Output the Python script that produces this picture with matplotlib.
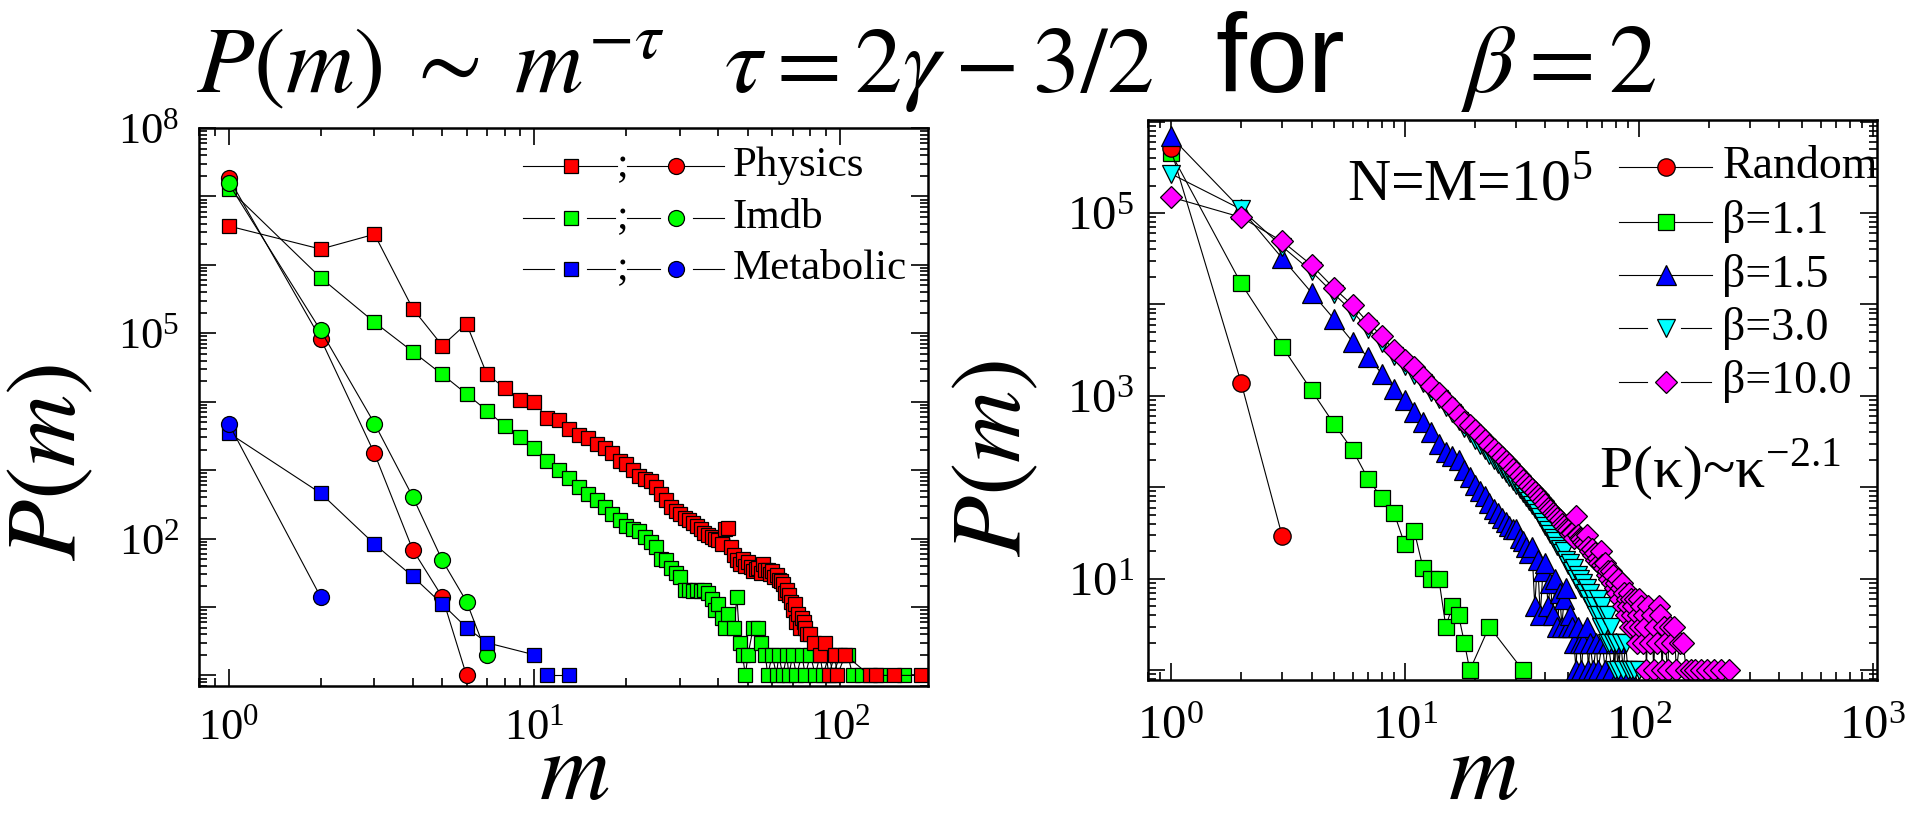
import numpy as np
import matplotlib
matplotlib.use('Agg')
import matplotlib.pyplot as plt
from matplotlib.ticker import LogLocator, FuncFormatter, NullFormatter

plt.rcParams['font.family'] = ['Liberation Serif', 'DejaVu Serif']
plt.rcParams['mathtext.fontset'] = 'stix'

# ---- left panel: P(m) for real networks ----
imdb_sq_m = [1, 2, 3, 4, 5, 6, 7, 8, 9, 10, 11, 12, 13, 14, 15, 16, 17, 18, 19, 20,
             21, 22, 23, 24, 25, 26, 27, 28, 29, 30, 31, 32, 33, 34, 35, 36, 37, 38, 39, 40,
             41, 42, 43, 45, 46, 47, 48, 49, 50, 52, 54, 55, 57, 58, 60, 62, 63, 65, 67, 68,
             70, 72, 75, 77, 80, 83, 86, 88, 92, 95, 100, 106, 110, 118, 135, 162]
imdb_sq_v = [1.3e7, 6.5e5, 1.45e5, 5.4e4, 2.5e4, 1.3e4, 7400, 4450, 3000, 2130, 1370, 1000, 780, 575, 450, 370, 290, 225, 186, 155,
             138, 129, 107, 89, 74, 50, 48, 37, 31, 27, 18, 18, 17, 18, 17, 18, 16, 13, 9, 11,
             7, 5, 8, 5, 14, 3, 2, 1, 2, 5, 5, 3, 2, 1, 2, 1, 2, 1, 2, 1,
             2, 1, 2, 1, 2, 1, 2, 1, 2, 1, 2, 2, 1, 1, 1, 1]

phys_sq_m = [1, 2, 3, 4, 5, 6, 7, 8, 9, 10, 11, 12, 13, 14, 15, 16, 17, 18, 19, 20,
             21, 22, 23, 24, 25, 26, 27, 28, 29, 30, 31, 32, 33, 34, 35, 36, 37, 38, 39, 40,
             41, 42, 43, 44, 45, 46, 47, 48, 49, 50, 51, 52, 53, 54, 55, 56, 57, 58, 59, 60,
             61, 62, 63, 64, 65, 66, 67, 68, 69, 70, 71, 72, 73, 74, 75, 76, 77, 78, 80, 82,
             86, 89, 92, 96, 98, 104, 125, 131, 150, 184]
phys_sq_v = [3.7e6, 1.7e6, 2.8e6, 2.3e5, 6.6e4, 1.38e5, 2.5e4, 1.6e4, 1.05e4, 1.0e4, 5750, 5400, 4050, 3300, 2900, 2400, 2130, 1770, 1370, 1210,
             1000, 830, 740, 690, 575, 450, 370, 290, 255, 225, 200, 186, 166, 155, 138, 120, 114, 107, 100, 94,
             83, 138, 145, 74, 57, 48, 42, 50, 40, 45, 38, 33, 36, 37, 31, 42, 35, 35, 30, 33,
             27, 29, 25, 24, 22, 16, 18, 15, 12, 9, 11, 6, 8, 5, 7, 6, 5, 4, 4, 3,
             2, 3, 1, 2, 1, 2, 1, 1, 1, 1]

phys_ci_m = [1, 2, 3, 4, 5, 6]
phys_ci_v = [1.87e7, 8.3e4, 1750, 69, 14, 1]
imdb_ci_m = [1, 2, 3, 4, 5, 6, 7]
imdb_ci_v = [1.55e7, 1.1e5, 4800, 410, 48, 12, 2]
metab_sq_m = [1, 2, 3, 4, 5, 6, 7, 10]
metab_sq_v = [3500, 460, 83, 28, 11, 5, 3, 2]
metab_sq_tail_m = [11, 13]
metab_sq_tail_v = [1, 1]
metab_ci_m = [1, 2]
metab_ci_v = [4800, 14]

# ---- right panel: model, N=M=10^5 ----
random_m = [1, 2, 3]
random_v = [5.1e5, 1400, 29]
b11_m = [1, 2, 3, 4, 5, 6, 7, 8, 9, 10, 11, 12, 13, 14, 15, 16, 17, 18, 19, 23, 32]
b11_v = [4.6e5, 1.7e4, 3450, 1150, 490, 255, 122, 76, 53, 24, 33, 13, 10, 10, 3, 5, 4, 2, 1, 3, 1]
b15_m = [1, 2, 3, 4, 5, 6, 7, 8, 9, 10, 11, 12, 13, 14, 15, 16, 17, 18, 19, 20,
         21, 22, 23, 24, 25, 26, 27, 28, 29, 30, 31, 32, 33, 34, 35, 36, 37, 38, 39, 40,
         41, 42, 43, 44, 45, 46, 47, 48, 49, 50, 51, 52, 53, 54, 55, 56, 57, 58, 60, 61,
         62, 64, 66, 67, 70, 72, 74, 77, 80, 84, 89]
b15_v = [6.9e5, 1.1e5, 3.2e4, 1.35e4, 6900, 3900, 2640, 1740, 1200, 900, 670, 520, 405, 300, 245, 220, 200, 155, 130, 105,
         92, 80, 67, 58, 53, 46, 42, 38, 35, 35, 28, 26, 22, 19, 22, 5, 16, 4, 12, 15,
         5, 9, 4, 10, 3, 7, 3, 6, 8, 3, 4, 3, 2, 1, 3, 2, 1, 2, 3, 1,
         2, 1, 2, 1, 2, 1, 2, 1, 2, 1, 1]
b30_m = [1, 2, 3, 4, 5, 6, 7, 8, 9, 10, 11, 12, 13, 14, 15, 16, 17, 18, 19, 20,
         21, 22, 23, 24, 25, 26, 27, 28, 29, 30, 31, 32, 33, 34, 35, 36, 37, 38, 39, 40,
         41, 42, 43, 44, 45, 46, 47, 48, 49, 50, 51, 52, 53, 54, 55, 56, 57, 58, 59, 60,
         61, 62, 63, 64, 65, 66, 67, 68, 69, 70, 71, 72, 73, 74, 75, 76, 78, 79, 80, 82,
         84, 86, 88, 90, 93, 96, 100]
b30_v = [2.7e5, 1.1e5, 4.3e4, 2.3e4, 1.3e4, 8300, 5400, 3800, 2700, 2100, 1700, 1380, 1100, 920, 750, 650, 530, 450, 390, 330,
         290, 255, 225, 200, 180, 160, 145, 130, 118, 105, 95, 86, 78, 70, 64, 58, 52, 47, 42, 38,
         34, 31, 28, 26, 23, 21, 19, 20, 16, 14, 15, 12, 13, 10, 11, 10, 8, 9, 7, 8,
         6, 7, 5, 6, 5, 4, 6, 4, 3, 5, 3, 4, 2, 4, 2, 3, 2, 1, 2, 1,
         2, 1, 2, 1, 1, 1, 1]
b10_m = [1, 2, 3, 4, 5, 6, 7, 8, 9, 10, 11, 12, 13, 14, 15, 16, 17, 18, 19, 20,
         21, 22, 23, 24, 25, 26, 27, 28, 29, 30, 31, 32, 33, 34, 35, 36, 37, 38, 39, 40,
         41, 42, 43, 44, 45, 46, 47, 48, 49, 50, 51, 52, 53, 54, 55, 56, 57, 58, 59, 60,
         61, 62, 63, 64, 65, 66, 67, 68, 69, 70, 71, 72, 73, 74, 75, 76, 77, 78, 79, 80,
         81, 82, 83, 84, 85, 86, 87, 88, 89, 90, 91, 92, 93, 94, 95, 96, 97, 98, 99, 100,
         101, 102, 104, 105, 107, 108, 110, 112, 114, 116, 118, 120, 122, 124, 126, 128, 130, 133, 136, 139,
         142, 145, 150, 155, 160, 168, 175, 185, 196, 210, 225, 244]
b10_v = [1.5e5, 9.0e4, 4.9e4, 2.7e4, 1.5e4, 9800, 6300, 4500, 3160, 2450, 2050, 1620, 1280, 1070, 870, 760, 615, 520, 480, 420,
         370, 330, 290, 265, 240, 215, 195, 178, 160, 148, 133, 120, 112, 103, 95, 88, 82, 76, 70, 66,
         60, 57, 52, 50, 46, 44, 40, 38, 35, 34, 31, 32, 28, 48, 30, 28, 27, 25, 24, 30,
         22, 20, 21, 18, 19, 16, 17, 15, 20, 14, 13, 15, 11, 12, 10, 12, 9, 11, 8, 9,
         7, 10, 6, 8, 9, 5, 7, 4, 6, 5, 7, 3, 6, 4, 5, 3, 6, 2, 4, 6,
         3, 5, 2, 4, 3, 1, 5, 2, 4, 1, 3, 2, 5, 4, 1, 3, 2, 1, 3, 2,
         3, 1, 2, 2, 1, 1, 1, 1, 1, 1, 1, 1]

left_labels = ['Physics', 'Imdb', 'Metabolic']
right_labels = ['Random', 'β=1.1', 'β=1.5', 'β=3.0', 'β=10.0']

RED, GREEN, BLUE, CYAN, MAGENTA = '#ff0000', '#00ff00', '#0000ff', '#00ffff', '#ff00ff'


def series(ax, m, v, marker, color, ms):
    ax.plot(m, v, '-', color='black', lw=0.8, marker=marker, mfc=color,
            mec='black', mew=0.9, ms=ms)


def style_axes(ax, xlim, ylim, ylab_decades, xlab_decades, fs, xpad, ypad):
    ax.set_xscale('log')
    ax.set_yscale('log')
    ax.set_xlim(*xlim)
    ax.set_ylim(*ylim)
    for s in ax.spines.values():
        s.set_linewidth(1.8)
    ax.xaxis.set_major_locator(LogLocator(base=10, numticks=20))
    ax.yaxis.set_major_locator(LogLocator(base=10, numticks=20))
    ax.xaxis.set_minor_locator(LogLocator(base=10, subs=np.arange(2, 10), numticks=20))
    ax.yaxis.set_minor_locator(LogLocator(base=10, subs=np.arange(2, 10), numticks=20))
    ax.xaxis.set_minor_formatter(NullFormatter())
    ax.yaxis.set_minor_formatter(NullFormatter())

    def fmt(keep):
        def f(v, pos):
            e = int(round(np.log10(v)))
            if e in keep:
                return r'$\mathregular{10^{%d}}$' % e
            return ''
        return FuncFormatter(f)
    ax.xaxis.set_major_formatter(fmt(xlab_decades))
    ax.yaxis.set_major_formatter(fmt(ylab_decades))
    ax.tick_params(which='both', direction='in', top=True, right=True, width=1.2)
    ax.tick_params(which='major', length=12)
    ax.tick_params(which='minor', length=6)
    ax.tick_params(axis='x', which='major', labelsize=fs, pad=xpad)
    ax.tick_params(axis='y', which='major', labelsize=fs, pad=ypad)


fig = plt.figure(figsize=(19.25, 8.15), dpi=100)
W, H = 1925.0, 815.0

# ---- left panel ----
axL = fig.add_axes([199 / W, 1 - 686 / H, 729 / W, 558 / H])
series(axL, imdb_sq_m, imdb_sq_v, 's', GREEN, 10.5)
series(axL, phys_sq_m, phys_sq_v, 's', RED, 10.5)
series(axL, phys_ci_m, phys_ci_v, 'o', RED, 11.5)
series(axL, imdb_ci_m, imdb_ci_v, 'o', GREEN, 11.5)
series(axL, metab_sq_m, metab_sq_v, 's', BLUE, 10.5)
series(axL, metab_sq_tail_m, metab_sq_tail_v, 's', BLUE, 10.5)
series(axL, metab_ci_m, metab_ci_v, 'o', BLUE, 11.5)
style_axes(axL, (0.80, 194), (0.70, 1e8), [2, 5, 8], [0, 1, 2], 32, 16, 14)

# legend drawn by hand: square ; circle  label
rowsL = [0.932, 0.839, 0.748]
colorsL = [RED, GREEN, BLUE]
for i, (lab, c, y) in enumerate(zip(left_labels, colorsL, rowsL)):
    kw = dict(transform=axL.transAxes, color='black', lw=0.8, clip_on=False)
    if i == 0:
        axL.plot([0.444, 0.574], [y, y], **kw)
        axL.plot([0.587, 0.720], [y, y], **kw)
    else:
        for a, b in [(0.445, 0.487), (0.532, 0.571), (0.587, 0.632), (0.678, 0.720)]:
            axL.plot([a, b], [y, y], **kw)
    axL.plot([0.510], [y], 's', mfc=c, mec='black', mew=0.9, ms=10.5,
             transform=axL.transAxes, clip_on=False)
    axL.plot([0.655], [y], 'o', mfc=c, mec='black', mew=0.9, ms=11.5,
             transform=axL.transAxes, clip_on=False)
    axL.text(0.581, y, ';', transform=axL.transAxes, fontsize=30,
             ha='center', va='center')
    axL.text(0.732, y, lab, transform=axL.transAxes, fontsize=31,
             ha='left', va='center')

# ---- right panel ----
axR = fig.add_axes([1148 / W, 1 - 680 / H, 729 / W, 559.5 / H])
series(axR, b11_m, b11_v, 's', GREEN, 11.5)
series(axR, random_m, random_v, 'o', RED, 12.5)
series(axR, b15_m, b15_v, '^', BLUE, 14)
series(axR, b30_m, b30_v, 'v', CYAN, 13)
series(axR, b10_m, b10_v, 'D', MAGENTA, 11.5)
style_axes(axR, (0.80, 1045), (0.78, 1.03e6), [1, 3, 5], [0, 1, 2, 3], 35, 18, 10)

rowsR = [0.917, 0.819, 0.723, 0.629, 0.533]
specR = [('o', RED, 12.5), ('s', GREEN, 11.5), ('^', BLUE, 14), ('v', CYAN, 13), ('D', MAGENTA, 11.5)]
for i, (lab, (mk, c, ms), y) in enumerate(zip(right_labels, specR, rowsR)):
    kw = dict(transform=axR.transAxes, color='black', lw=0.8, clip_on=False)
    if i < 3:
        axR.plot([0.646, 0.774], [y, y], **kw)
    else:
        axR.plot([0.646, 0.684], [y, y], **kw)
        axR.plot([0.731, 0.772], [y, y], **kw)
    axR.plot([0.710], [y], mk, mfc=c, mec='black', mew=0.9, ms=ms,
             transform=axR.transAxes, clip_on=False)
    axR.text(0.788, y, lab, transform=axR.transAxes, fontsize=33,
             ha='left', va='center')

axR.text(0.273, 0.857, r'N=M=10$^{\mathregular{5}}$', transform=axR.transAxes,
         fontsize=43, ha='left', va='baseline')
axR.text(0.619, 0.3435, r'P(κ)~κ$^{\mathregular{-2.1}}$', transform=axR.transAxes,
         fontsize=43, ha='left', va='baseline')

# ---- axis labels ----
fig.text(51 / W, 1 - 462 / H, r'$P(m)$', rotation=90, fontsize=72, ha='center', va='center')
fig.text(996 / W, 1 - 458 / H, r'$P(m)$', rotation=90, fontsize=72, ha='center', va='center')
fig.text(574 / W, 1 - 799 / H, r'$m$', fontsize=70, ha='center', va='baseline')
fig.text(1483 / W, 1 - 799 / H, r'$m$', fontsize=70, ha='center', va='baseline')

# ---- title ----
ty = 1 - 92 / H
fig.text(196 / W, ty, r'$P(m)\;\sim\;m^{-\tau}$', fontsize=68, ha='left', va='baseline')
fig.text(724 / W, ty, r'$\tau=2\gamma-3/2$', fontsize=68, ha='left', va='baseline')
fig.text(1215 / W, ty, 'for', fontsize=80, ha='left', va='baseline',
         family=['Liberation Sans', 'DejaVu Sans'])
fig.text(1461 / W, ty, r'$\beta=2$', fontsize=70, ha='left', va='baseline')

fig.savefig('out.png', dpi=100, facecolor='white')
